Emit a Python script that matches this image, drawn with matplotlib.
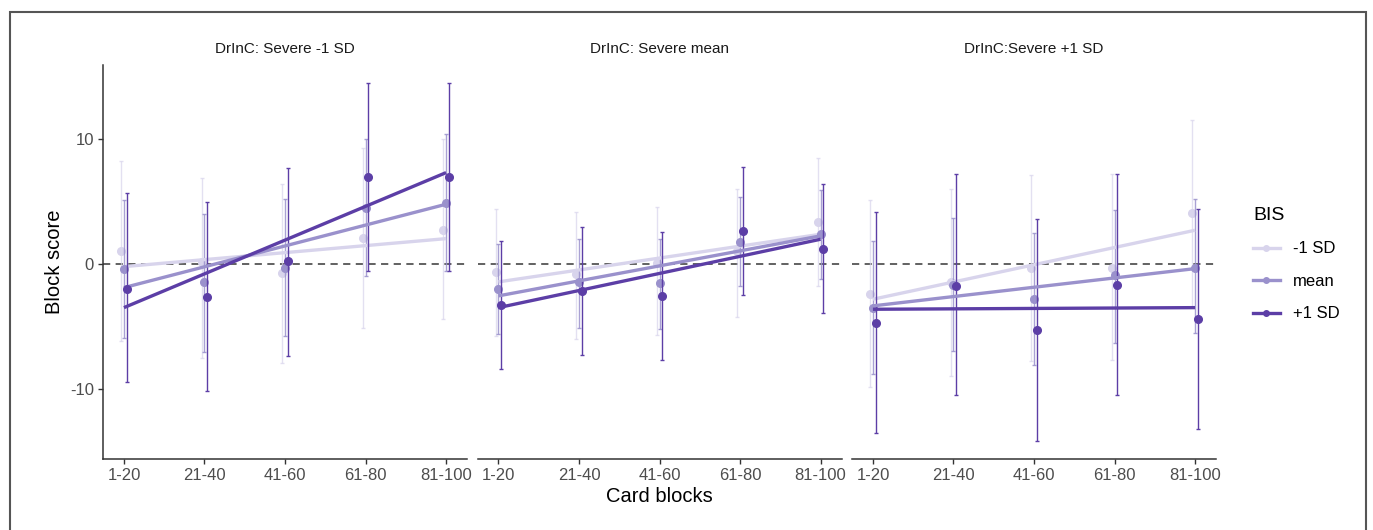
import matplotlib
matplotlib.use("Agg")
import matplotlib.pyplot as plt
from matplotlib.lines import Line2D
from matplotlib.patches import Rectangle

plt.rcParams['font.family'] = ['Liberation Sans', 'DejaVu Sans']
plt.rcParams['axes.unicode_minus'] = False

blocks = ['1-20', '21-40', '41-60', '61-80', '81-100']
panels = ['DrInC: Severe -1 SD', 'DrInC: Severe mean', 'DrInC:Severe +1 SD']
groups = ['-1 SD', 'mean', '+1 SD']

# points and error bars, one row per panel
low_pt = [[1.07, 0.2, -0.72, 2.08, 2.75],
          [-0.59, -0.8, 0.08, 1.07, 3.41],
          [-2.35, -1.41, -0.32, -0.27, 4.08]]
low_lo = [[-6.13, -7.47, -7.92, -5.07, -4.4],
          [-5.73, -6.0, -5.68, -4.19, -1.73],
          [-9.81, -8.93, -7.73, -7.68, -3.4]]
low_hi = [[8.27, 6.93, 6.4, 9.33, 10.0],
          [4.45, 4.21, 4.61, 6.05, 8.53],
          [5.15, 6.0, 7.12, 7.25, 11.52]]

mean_pt = [[-0.4, -1.41, -0.27, 4.53, 4.88],
           [-1.95, -1.41, -1.52, 1.81, 2.4],
           [-3.47, -1.68, -2.8, -0.88, -0.27]]
mean_lo = [[-5.87, -7.01, -5.73, -0.93, -0.53],
           [-5.6, -5.07, -5.15, -1.73, -1.2],
           [-8.8, -6.93, -8.08, -6.27, -5.47]]
mean_hi = [[5.15, 4.05, 5.2, 10.0, 10.4],
           [1.65, 2.0, 2.0, 5.39, 5.92],
           [1.87, 3.73, 2.53, 4.35, 5.2]]

high_pt = [[-1.95, -2.59, 0.27, 7.01, 7.01],
           [-3.28, -2.13, -2.53, 2.67, 1.25],
           [-4.67, -1.73, -5.28, -1.65, -4.4]]
high_lo = [[-9.41, -10.13, -7.33, -0.53, -0.53],
           [-8.4, -7.28, -7.68, -2.45, -3.87],
           [-13.47, -10.48, -14.13, -10.48, -13.2]]
high_hi = [[5.68, 4.99, 7.73, 14.53, 14.48],
           [1.87, 3.01, 2.59, 7.79, 6.4],
           [4.21, 7.2, 3.6, 7.2, 4.4]]

# fitted lines: value at first and last block
low_fit = [[-0.19, 2.05], [-1.41, 2.4], [-2.8, 2.72]]
mean_fit = [[-1.87, 4.8], [-2.53, 2.27], [-3.33, -0.35]]
high_fit = [[-3.47, 7.33], [-3.47, 2.0], [-3.6, -3.47]]

colors = ['#d8d4ec', '#9a91cc', '#5c3ea6']
bar_alpha = [0.7, 0.85, 1.0]
dodge = [-0.034, 0.0, 0.034]

W, H = 1373, 530
fig = plt.figure(figsize=(W / 100, H / 100), dpi=100)

# outer frame of the screenshot
fig.patches.append(Rectangle((10 / W, -0.05), 1356 / W, (H - 12) / H + 0.05,
                             transform=fig.transFigure, fill=False,
                             edgecolor='#555555', lw=1.5))

lefts = [103, 477.5, 852]
ax_w, ax_top, ax_bot = 364, 65, 459
xs = list(range(1, len(blocks) + 1))

all_pt = [low_pt, mean_pt, high_pt]
all_lo = [low_lo, mean_lo, high_lo]
all_hi = [low_hi, mean_hi, high_hi]
all_fit = [low_fit, mean_fit, high_fit]

for p in range(3):
    ax = fig.add_axes([lefts[p] / W, (H - ax_bot) / H, ax_w / W, (ax_bot - ax_top) / H])
    ax.axhline(0, color='#555555', ls=(0, (4, 3)), lw=1.3, zorder=1)
    for g in range(3):
        gx = [x + dodge[g] for x in xs]
        pts = all_pt[g][p]
        yerr = [[pts[i] - all_lo[g][p][i] for i in range(5)],
                [all_hi[g][p][i] - pts[i] for i in range(5)]]
        ax.errorbar(gx, pts, yerr=yerr, fmt='none', ecolor=colors[g],
                    elinewidth=1.0, capsize=1.5, capthick=1.0,
                    alpha=bar_alpha[g], zorder=2 + g)
        ax.plot(gx, pts, 'o', color=colors[g], ms=5.5, zorder=3 + g)
        ax.plot([xs[0], xs[-1]], all_fit[g][p], color=colors[g], lw=2.4,
                solid_capstyle='butt', zorder=4 + g)
    ax.set_xlim(0.74, 5.26)
    ax.set_ylim(-15.58, 15.94)
    ax.set_xticks(xs)
    ax.set_xticklabels(blocks)
    ax.set_yticks([-10, 0, 10])
    ax.tick_params(colors='#333333', labelcolor='#4d4d4d', labelsize=12,
                   length=3.5, width=1, pad=3)
    for s in ['top', 'right']:
        ax.spines[s].set_visible(False)
    ax.spines['bottom'].set_color('#333333')
    ax.spines['bottom'].set_linewidth(1.1)
    if p == 0:
        ax.spines['left'].set_color('#333333')
        ax.spines['left'].set_linewidth(1.1)
    else:
        ax.spines['left'].set_visible(False)
        ax.tick_params(axis='y', left=False, labelleft=False)
    ax.set_title(panels[p], fontsize=11, color='#1a1a1a', pad=9)

fig.text(659 / W, 1 - 496 / H, 'Card blocks', ha='center', va='center', fontsize=14.5)
fig.text(55 / W, 1 - 262 / H, 'Block score', ha='center', va='center',
         rotation=90, fontsize=14.5)

handles = [Line2D([], [], color=colors[g], lw=2.4, marker='o', ms=4) for g in range(3)]
leg = fig.legend(handles, groups, loc='upper left', bbox_to_anchor=(1238 / W, 1 - 192 / H),
                 frameon=False, title='BIS', fontsize=12, title_fontsize=14,
                 handlelength=1.6, handletextpad=0.8, labelspacing=1.05,
                 alignment='left')

fig.savefig('out.png', dpi=100)
